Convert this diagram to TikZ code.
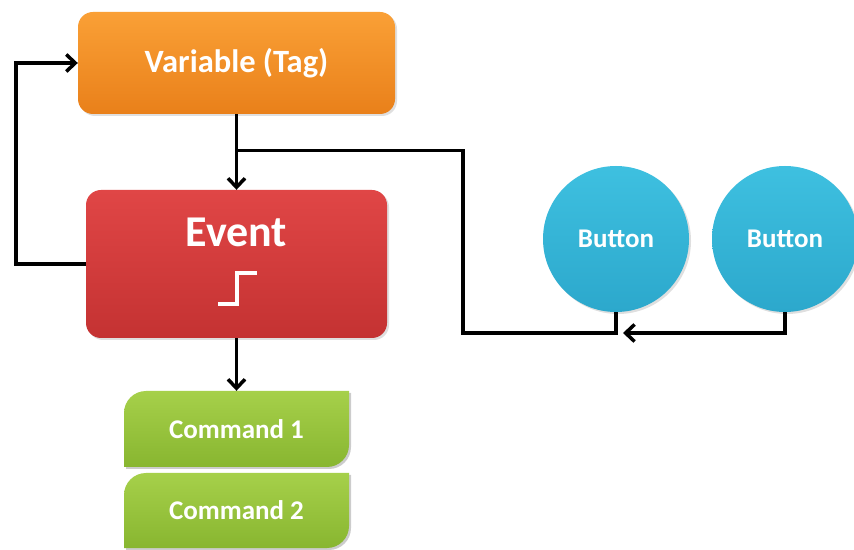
\documentclass[tikz,border=0pt]{standalone}
\usepackage{fontspec}
\setmainfont{Carlito}
\usetikzlibrary{arrows.meta,shadows,calc}
\definecolor{orTop}{HTML}{FAA036}
\definecolor{orBot}{HTML}{E9801A}
\definecolor{rdTop}{HTML}{E04646}
\definecolor{rdBot}{HTML}{C43232}
\definecolor{grTop}{HTML}{A6D04A}
\definecolor{grBot}{HTML}{88B630}
\definecolor{blTop}{HTML}{3EC0E0}
\definecolor{blBot}{HTML}{2CA8CC}
\tikzset{
  box/.style={rectangle, rounded corners=15pt, text=white, font=\bfseries,
    drop shadow={opacity=0.25, shadow xshift=2pt, shadow yshift=-2pt}},
  btn/.style={circle, minimum size=146pt, inner sep=0pt, text=white, font=\bfseries\fontsize{27}{29}\selectfont,
    top color=blTop, bottom color=blBot,
    drop shadow={opacity=0.25, shadow xshift=2pt, shadow yshift=-2pt}},
  cmdtext/.style={text=white, font=\bfseries\fontsize{27}{29}\selectfont, minimum width=225pt, inner sep=0pt},
  conn/.style={line width=3.5pt, -{Straight Barb[length=9pt,width=17pt,line width=3.5pt]}},
  plain/.style={line width=3.5pt},
}
\begin{document}
\begin{tikzpicture}[x=1pt,y=1pt]
\useasboundingbox[fill=white] (0,0) rectangle (854,549);
% nodes
\node[box, top color=orTop, bottom color=orBot, minimum width=317pt, minimum height=102pt,
  font=\bfseries\fontsize{32.5}{34}\selectfont] (var) at (236.5,486) {Variable (Tag)};
\node[box, top color=rdTop, bottom color=rdBot, minimum width=301pt, minimum height=148pt] (ev) at (236.5,285) {};
\node[text=white, font=\bfseries\fontsize{44}{46}\selectfont] (evt) at ($(ev.center)+(0,32)$) {Event};
\draw[white, line width=3.5pt] ($(ev.center)+(-18.5,-40)$) -- ++(19,0) -- ++(0,31) -- ++(20,0);
% command shapes
\foreach \n/\cy/\h/\t in {c1/120/76/Command 1, c2/38.5/75/Command 2}{
  \fill[black, opacity=0.2] ($(124,\cy-\h/2)+(2,-2)$) -- ++(0,\h-22) arc[start angle=180,end angle=90,radius=22] -- ++(203,0) -- ++(0,-\h+22) arc[start angle=0,end angle=-90,radius=22] -- cycle;
  \shade[top color=grTop, bottom color=grBot] (124,\cy-\h/2) -- ++(0,\h-22) arc[start angle=180,end angle=90,radius=22] -- ++(203,0) -- ++(0,-\h+22) arc[start angle=0,end angle=-90,radius=22] -- cycle;
  \node[cmdtext, minimum height=\h pt] (\n) at (236.5,\cy) {\t};
}
\node[btn] (b1) at (616,310) {Button};
\node[btn] (b2) at (785,310) {Button};
% connectors
\draw[conn] (var.south) -- (ev.north);
\coordinate (j) at ($(var.south)!0.48!(ev.north)$);
\coordinate (r1) at (463,0);
\coordinate (bus) at (0,216);
\draw[plain] (j) -| (r1 |- bus) -| (b1.south);
\draw[conn] (b2.south) |- ($(b1.south |- bus)+(7,0)$);
\draw[conn] (ev.west) -- ++(-70,0) |- (var.west);
\draw[conn] (ev.south) -- (c1.north);
\end{tikzpicture}
\end{document}
